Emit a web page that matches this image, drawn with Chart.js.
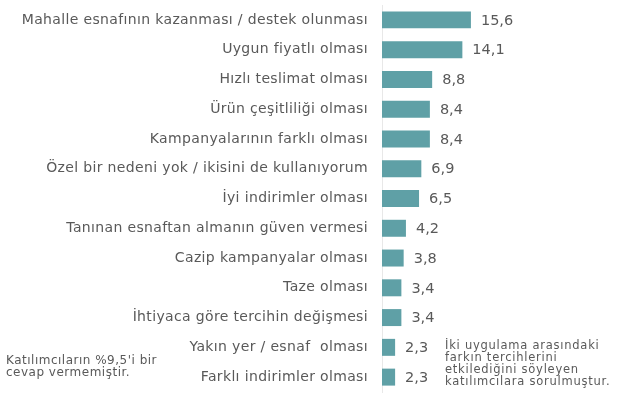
<!DOCTYPE html>
<html>
<head>
<meta charset="utf-8">
<script src="https://cdn.jsdelivr.net/npm/chart.js@4"></script>
<style>
  html, body { margin: 0; padding: 0; background: #fff; }
  #wrap { position: relative; width: 624px; height: 407px; }
</style>
</head>
<body>
<div id="wrap"><canvas id="myChart"></canvas></div>
<script>
// kategoriler ve yüzdeler
var reasons = [
  'Mahalle esnafının kazanması / destek olunması',
  'Uygun fiyatlı olması',
  'Hızlı teslimat olması',
  'Ürün çeşitliliği olması',
  'Kampanyalarının farklı olması',
  'Özel bir nedeni yok / ikisini de kullanıyorum',
  'İyi indirimler olması',
  'Tanınan esnaftan almanın güven vermesi',
  'Cazip kampanyalar olması',
  'Taze olması',
  'İhtiyaca göre tercihin değişmesi',
  'Yakın yer / esnaf  olması',
  'Farklı indirimler olması'
];
var percents = [15.6, 14.1, 8.8, 8.4, 8.4, 6.9, 6.5, 4.2, 3.8, 3.4, 3.4, 2.3, 2.3];

var noteLeft = ['Katılımcıların %9,5\'i bir', 'cevap vermemiştir.'];
var noteRight = ['İki uygulama arasındaki', 'farkın tercihlerini', 'etkilediğini söyleyen', 'katılımcılara sorulmuştur.'];

var textColor = '#595959';
var fontName = 'Verdana, "DejaVu Sans", sans-serif';

// eksen etiketleri biraz daha geniş görünsün
var spacing = {
  id: 'spacing',
  beforeDraw: function(chart) {
    chart.ctx.letterSpacing = '0.35px';
  }
};

// değer etiketleri + dipnotlar
var valueLabels = {
  id: 'valueLabels',
  afterDatasetsDraw: function(chart) {
    var ctx = chart.ctx;
    var meta = chart.getDatasetMeta(0);
    ctx.save();
    ctx.fillStyle = textColor;
    ctx.font = '14.5px ' + fontName;
    ctx.letterSpacing = '0px';
    ctx.textAlign = 'left';
    ctx.textBaseline = 'middle';
    meta.data.forEach(function(bar, i) {
      ctx.fillText(percents[i].toFixed(1).replace('.', ','), bar.x + 10, bar.y + 1);
    });

    ctx.textBaseline = 'alphabetic';
    ctx.font = '12px ' + fontName;
    ctx.letterSpacing = '0.5px';
    noteLeft.forEach(function(t, i) {
      ctx.fillText(t, 6, 363.5 + i * 12);
    });
    ctx.font = '11.5px ' + fontName;
    ctx.letterSpacing = '0.75px';
    noteRight.forEach(function(t, i) {
      ctx.fillText(t, 445, 349 + i * 12);
    });
    ctx.restore();
  }
};

var ctx = document.getElementById('myChart').getContext('2d');
new Chart(ctx, {
  type: 'bar',
  data: {
    labels: reasons,
    datasets: [{
      data: percents,
      backgroundColor: '#5fa0a6',
      borderWidth: 0,
      barPercentage: 0.57,
      categoryPercentage: 1
    }]
  },
  options: {
    indexAxis: 'y',
    responsive: true,
    maintainAspectRatio: false,
    animation: false,
    layout: { padding: { top: 5, bottom: 15, left: 0, right: 14 } },
    scales: {
      x: {
        display: false,
        min: 0,
        max: 40
      },
      y: {
        afterFit: function(scale) {
          scale.width = 382;
          scale.paddingTop = 0;
          scale.paddingBottom = 0;
        },
        grid: { display: false, drawTicks: false },
        border: { display: true, color: '#e8e8e8', width: 1 },
        ticks: {
          color: textColor,
          padding: 14,
          font: { family: fontName, size: 14 }
        }
      }
    },
    plugins: {
      legend: { display: false },
      tooltip: { enabled: false }
    }
  },
  plugins: [spacing, valueLabels]
});
</script>
</body>
</html>
